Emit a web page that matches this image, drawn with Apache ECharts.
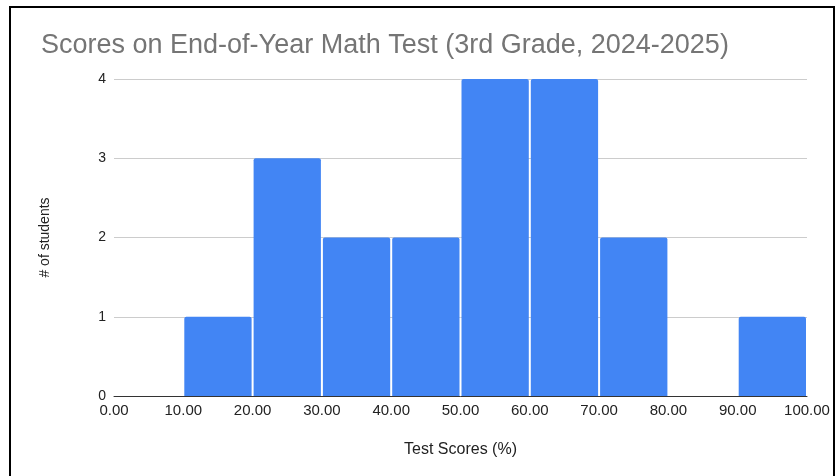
<!DOCTYPE html>
<html>
<head>
<meta charset="utf-8">
<script src="https://cdn.jsdelivr.net/npm/echarts@6/dist/echarts.min.js"></script>
<style>
  html, body { margin: 0; padding: 0; background: #fff; }
  #chart { width: 838px; height: 476px; }
  #frame {
    position: absolute; left: 9px; top: 6px; width: 822px; height: 480px;
    border: 2px solid #000; pointer-events: none;
  }
</style>
</head>
<body>
<div id="chart"></div>
<div id="frame"></div>
<script>
// histogram bins: [start, end]
const binStarts = [0, 10, 20, 30, 40, 50, 60, 70, 80, 90];
const binEnds = [10, 20, 30, 40, 50, 60, 70, 80, 90, 100];
const counts = [0, 1, 3, 2, 2, 4, 4, 2, 0, 1];

const chart = echarts.init(document.getElementById('chart'));

const data = binStarts.map((s, i) => [s, binEnds[i], counts[i]]);

chart.setOption({
  animation: false,
  title: {
    text: 'Scores on End-of-Year Math Test (3rd Grade, 2024-2025)',
    left: 36,
    top: 27,
    textStyle: {
      fontFamily: 'Liberation Sans',
      fontSize: 27,
      fontWeight: 'normal',
      color: '#757575',
    },
  },
  grid: { left: 114, right: 31, top: 79, bottom: 80 },
  xAxis: {
    type: 'value',
    min: 0,
    max: 100,
    interval: 10,
    name: 'Test Scores (%)',
    nameLocation: 'middle',
    nameGap: 46,
    nameTextStyle: { fontFamily: 'Liberation Sans', fontSize: 16, color: '#222' },
    axisLine: { lineStyle: { color: '#333', width: 1 } },
    axisTick: { show: false },
    splitLine: { show: false },
    axisLabel: {
      fontFamily: 'Liberation Sans',
      fontSize: 15,
      color: '#222',
      margin: 7,
      formatter: (v) => v.toFixed(2),
    },
  },
  yAxis: {
    type: 'value',
    min: 0,
    max: 4,
    interval: 1,
    name: '# of students',
    nameLocation: 'middle',
    nameGap: 62,
    nameTextStyle: { fontFamily: 'Liberation Sans', fontSize: 14, color: '#222' },
    axisLine: { show: false },
    axisTick: { show: false },
    splitLine: { lineStyle: { color: '#cccccc', width: 1 } },
    axisLabel: {
      fontFamily: 'Liberation Sans',
      fontSize: 14,
      color: '#222',
      margin: 8,
    },
  },
  series: [
    {
      type: 'custom',
      data: data,
      renderItem: (params, api) => {
        const start = api.coord([api.value(0), 0]);
        const end = api.coord([api.value(1), api.value(2)]);
        if (api.value(2) === 0) return null;
        return {
          type: 'rect',
          shape: {
            x: start[0] + 1,
            y: end[1],
            width: end[0] - start[0] - 2,
            height: start[1] - end[1],
            r: [2, 2, 0, 0],
          },
          style: { fill: '#4285F4' },
        };
      },
    },
  ],
});
</script>
</body>
</html>
